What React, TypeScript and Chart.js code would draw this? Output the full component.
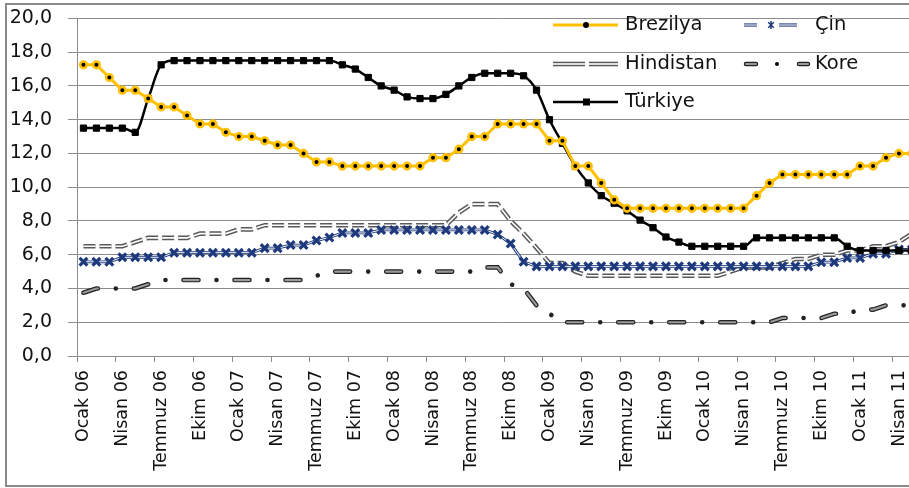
import React, { useEffect, useRef } from 'react';
import { Chart, registerables } from 'chart.js';
Chart.register(...registerables);

const categories = [
  'Ocak 06', 'Şubat 06', 'Mart 06', 'Nisan 06', 'Mayıs 06', 'Haziran 06', 'Temmuz 06', 'Ağustos 06', 'Eylül 06', 'Ekim 06', 'Kasım 06', 'Aralık 06',
  'Ocak 07', 'Şubat 07', 'Mart 07', 'Nisan 07', 'Mayıs 07', 'Haziran 07', 'Temmuz 07', 'Ağustos 07', 'Eylül 07', 'Ekim 07', 'Kasım 07', 'Aralık 07',
  'Ocak 08', 'Şubat 08', 'Mart 08', 'Nisan 08', 'Mayıs 08', 'Haziran 08', 'Temmuz 08', 'Ağustos 08', 'Eylül 08', 'Ekim 08', 'Kasım 08', 'Aralık 08',
  'Ocak 09', 'Şubat 09', 'Mart 09', 'Nisan 09', 'Mayıs 09', 'Haziran 09', 'Temmuz 09', 'Ağustos 09', 'Eylül 09', 'Ekim 09', 'Kasım 09', 'Aralık 09',
  'Ocak 10', 'Şubat 10', 'Mart 10', 'Nisan 10', 'Mayıs 10', 'Haziran 10', 'Temmuz 10', 'Ağustos 10', 'Eylül 10', 'Ekim 10', 'Kasım 10', 'Aralık 10',
  'Ocak 11', 'Şubat 11', 'Mart 11', 'Nisan 11', 'Mayıs 11',
];

const brezilya = [
  17.25, 17.25, 16.5, 15.75, 15.75, 15.25, 14.75, 14.75, 14.25, 13.75, 13.75, 13.25,
  13.0, 13.0, 12.75, 12.5, 12.5, 12.0, 11.5, 11.5, 11.25, 11.25, 11.25, 11.25,
  11.25, 11.25, 11.25, 11.75, 11.75, 12.25, 13.0, 13.0, 13.75, 13.75, 13.75, 13.75,
  12.75, 12.75, 11.25, 11.25, 10.25, 9.25, 8.75, 8.75, 8.75, 8.75, 8.75, 8.75,
  8.75, 8.75, 8.75, 8.75, 9.5, 10.25, 10.75, 10.75, 10.75, 10.75, 10.75, 10.75,
  11.25, 11.25, 11.75, 12.0, 12.0,
];

const cin = [
  5.58, 5.58, 5.58, 5.85, 5.85, 5.85, 5.85, 6.12, 6.12, 6.12, 6.12, 6.12,
  6.12, 6.12, 6.39, 6.39, 6.57, 6.57, 6.84, 7.02, 7.29, 7.29, 7.29, 7.47,
  7.47, 7.47, 7.47, 7.47, 7.47, 7.47, 7.47, 7.47, 7.2, 6.66, 5.58, 5.31,
  5.31, 5.31, 5.31, 5.31, 5.31, 5.31, 5.31, 5.31, 5.31, 5.31, 5.31, 5.31,
  5.31, 5.31, 5.31, 5.31, 5.31, 5.31, 5.31, 5.31, 5.31, 5.56, 5.56, 5.81,
  5.81, 6.06, 6.06, 6.31, 6.31,
];

const hindistan = [
  6.5, 6.5, 6.5, 6.5, 6.75, 7.0, 7.0, 7.0, 7.0, 7.25, 7.25, 7.25,
  7.5, 7.5, 7.75, 7.75, 7.75, 7.75, 7.75, 7.75, 7.75, 7.75, 7.75, 7.75,
  7.75, 7.75, 7.75, 7.75, 7.75, 8.5, 9.0, 9.0, 9.0, 8.0, 7.25, 6.4,
  5.5, 5.5, 5.0, 4.75, 4.75, 4.75, 4.75, 4.75, 4.75, 4.75, 4.75, 4.75,
  4.75, 4.75, 5.0, 5.25, 5.25, 5.25, 5.5, 5.75, 5.75, 6.0, 6.0, 6.25,
  6.25, 6.5, 6.5, 6.75, 7.25,
];

const kore = [
  3.75, 4.0, 4.0, 4.0, 4.0, 4.25, 4.5, 4.5, 4.5, 4.5, 4.5, 4.5,
  4.5, 4.5, 4.5, 4.5, 4.5, 4.5, 4.75, 5.0, 5.0, 5.0, 5.0, 5.0,
  5.0, 5.0, 5.0, 5.0, 5.0, 5.0, 5.0, 5.25, 5.25, 4.25, 4.0, 3.0,
  2.5, 2.0, 2.0, 2.0, 2.0, 2.0, 2.0, 2.0, 2.0, 2.0, 2.0, 2.0,
  2.0, 2.0, 2.0, 2.0, 2.0, 2.0, 2.25, 2.25, 2.25, 2.25, 2.5, 2.5,
  2.75, 2.75, 3.0, 3.0, 3.0,
];

const turkiye = [
  13.5, 13.5, 13.5, 13.5, 13.25, 15.25, 17.25, 17.5, 17.5, 17.5, 17.5, 17.5,
  17.5, 17.5, 17.5, 17.5, 17.5, 17.5, 17.5, 17.5, 17.25, 17.0, 16.5, 16.0,
  15.75, 15.35, 15.25, 15.25, 15.5, 16.0, 16.5, 16.75, 16.75, 16.75, 16.6, 15.75,
  14.0, 12.6, 11.25, 10.25, 9.5, 9.05, 8.6, 8.05, 7.6, 7.05, 6.75, 6.5,
  6.5, 6.5, 6.5, 6.5, 7.0, 7.0, 7.0, 7.0, 7.0, 7.0, 7.0, 6.5,
  6.25, 6.25, 6.25, 6.25, 6.25,
];

const seriesNames = ['Brezilya', 'Çin', 'Hindistan', 'Kore', 'Türkiye'];

const GOLD = '#FFC000';
const NAVY = '#1F3A7C';
const GRID = '#8c8c8c';
const FONT = '"DejaVu Sans", sans-serif';
const KORE_OUT = [15, 18, 0.01, 18];
const KORE_IN = [15, 36.01];
const HIN_DASH = [12, 4];
const SHIFT = 9; // canvas is placed SHIFT px above the page top
const CANVAS_H = 488 + SHIFT;

const legendPlugin = {
  id: 'customLegend',
  afterDraw(chart: any) {
    const ctx = chart.ctx as CanvasRenderingContext2D;
    ctx.save();
    const seg = (x1: number, x2: number, y: number, color: string, w: number, cap: CanvasLineCap = 'butt') => {
      ctx.beginPath();
      ctx.setLineDash([]);
      ctx.lineCap = cap;
      ctx.strokeStyle = color;
      ctx.lineWidth = w;
      ctx.moveTo(x1, y);
      ctx.lineTo(x2, y);
      ctx.stroke();
    };
    const r1 = 25 + SHIFT, r2 = 64 + SHIFT, r3 = 102 + SHIFT;
    // Brezilya
    seg(553, 618, r1, GOLD, 3);
    ctx.beginPath();
    ctx.fillStyle = '#000';
    ctx.arc(586, r1, 3, 0, Math.PI * 2);
    ctx.fill();
    // Çin
    seg(744, 757, r1, NAVY, 3.2);
    seg(744, 757, r1, '#fff', 1.1);
    seg(779, 797, r1, NAVY, 3.2);
    seg(779, 797, r1, '#fff', 1.1);
    ctx.strokeStyle = NAVY;
    ctx.lineWidth = 1.5;
    ctx.beginPath();
    const cx = 771, cr = 4;
    ctx.moveTo(cx - cr * 0.7, r1 - cr * 0.7); ctx.lineTo(cx + cr * 0.7, r1 + cr * 0.7);
    ctx.moveTo(cx + cr * 0.7, r1 - cr * 0.7); ctx.lineTo(cx - cr * 0.7, r1 + cr * 0.7);
    ctx.moveTo(cx, r1 - cr); ctx.lineTo(cx, r1 + cr);
    ctx.stroke();
    // Hindistan
    seg(553, 585, r2, '#595959', 4.6);
    seg(553, 585, r2, '#fff', 1.6);
    seg(589, 618, r2, '#595959', 4.6);
    seg(589, 618, r2, '#fff', 1.6);
    // Kore
    seg(746, 756, r2, '#222', 4.5, 'round');
    seg(746, 756, r2, '#9a9a9a', 2, 'round');
    seg(799, 808, r2, '#222', 4.5, 'round');
    seg(799, 808, r2, '#9a9a9a', 2, 'round');
    ctx.beginPath();
    ctx.fillStyle = '#000';
    ctx.arc(777, r2, 2, 0, Math.PI * 2);
    ctx.fill();
    // Türkiye
    seg(553, 618, r3, '#000', 2.5);
    ctx.fillStyle = '#000';
    ctx.fillRect(583, r3 - 3.5, 7, 7);
    // texts
    ctx.fillStyle = '#111';
    ctx.font = '19.5px ' + FONT;
    ctx.textBaseline = 'middle';
    ctx.textAlign = 'left';
    ctx.fillText(seriesNames[0], 625, r1);
    ctx.fillText(seriesNames[1], 815, r1);
    ctx.fillText(seriesNames[2], 625, r2);
    ctx.fillText(seriesNames[3], 815, r2);
    ctx.fillText(seriesNames[4], 625, r3);
    ctx.restore();
  },
};

export default function App() {
  const ref = useRef<HTMLCanvasElement | null>(null);

  useEffect(() => {
    if (!ref.current) return;
    const none = { pointRadius: 0, pointHoverRadius: 0 };
    const chart = new Chart(ref.current, {
      type: 'line',
      data: {
        labels: categories,
        datasets: [
          {
            label: seriesNames[0], data: brezilya, borderColor: GOLD, borderWidth: 3,
            pointStyle: 'circle', pointRadius: 3.3, pointBackgroundColor: '#000',
            pointBorderColor: GOLD, pointBorderWidth: 2.6, order: 1,
          },
          {
            label: seriesNames[4], data: turkiye, borderColor: '#000', borderWidth: 2.5,
            cubicInterpolationMode: 'monotone', pointStyle: 'rect', pointRadius: 4.4,
            pointBackgroundColor: '#000', pointBorderColor: '#000', pointBorderWidth: 1, order: 2,
          },
          {
            label: seriesNames[1], data: cin, showLine: false, pointStyle: 'crossRot',
            pointRadius: 5.5, pointBorderWidth: 3.2, borderColor: NAVY, pointBorderColor: NAVY,
            backgroundColor: NAVY, order: 3,
          },
          { label: 'cin-in', data: cin, borderColor: '#fff', borderWidth: 1, ...none, order: 4 },
          { label: 'cin-out', data: cin, borderColor: NAVY, borderWidth: 2.8, ...none, order: 5 },
          {
            label: 'hin-in', data: hindistan, borderColor: '#fff', borderWidth: 1.6,
            borderDash: HIN_DASH, ...none, order: 6,
          },
          {
            label: seriesNames[2], data: hindistan, borderColor: '#595959', borderWidth: 4.6,
            borderDash: HIN_DASH, ...none, order: 7,
          },
          {
            label: 'kore-in', data: kore, borderColor: '#9a9a9a', borderWidth: 2.2,
            borderDash: KORE_IN, borderCapStyle: 'round', ...none, order: 8,
          },
          {
            label: seriesNames[3], data: kore, borderColor: '#222', borderWidth: 4.6,
            borderDash: KORE_OUT, borderCapStyle: 'round', ...none, order: 9,
          },
        ],
      },
      options: {
        responsive: false,
        animation: false,
        events: [],
        layout: { padding: { top: 9, right: 12, left: 0, bottom: 0 } },
        plugins: { legend: { display: false }, tooltip: { enabled: false } },
        scales: {
          x: {
            type: 'category',
            offset: true,
            afterFit: (s: any) => { s.height = 488 - 356; },
            grid: {
              offset: true,
              drawOnChartArea: false,
              drawTicks: true,
              tickLength: 6,
              color: (c: any) => (c.index % 3 === 0 ? GRID : 'rgba(0,0,0,0)'),
            },
            border: { display: true, color: GRID, width: 1 },
            ticks: {
              autoSkip: false,
              maxRotation: 90,
              minRotation: 90,
              padding: 8,
              color: '#111',
              font: { family: FONT, size: 17.5 },
              callback: (_v: any, i: number) => (i % 3 === 0 ? categories[i] : ''),
            },
          },
          y: {
            min: 0,
            max: 20,
            afterFit: (s: any) => { s.width = 77; },
            grid: { color: GRID, lineWidth: 1, drawTicks: true, tickLength: 9 },
            border: { display: true, color: GRID, width: 1 },
            ticks: {
              stepSize: 2,
              padding: 16,
              color: '#111',
              font: { family: FONT, size: 19 },
              callback: (v: any) => Number(v).toFixed(1).replace('.', ','),
            },
          },
        },
      },
      plugins: [legendPlugin],
    } as any);
    return () => chart.destroy();
  }, []);

  return (
    <div style={{ position: 'fixed', left: 0, top: 0, width: 909, height: 488, overflow: 'hidden', background: '#fff' }}>
      <div style={{ position: 'absolute', left: 5, top: 3, width: 1000, height: 484, border: '2px solid #8a8a8a', boxSizing: 'border-box' }} />
      <canvas ref={ref} width={941} height={CANVAS_H} style={{ position: 'absolute', left: 0, top: -SHIFT, display: 'block' }} />
    </div>
  );
}
